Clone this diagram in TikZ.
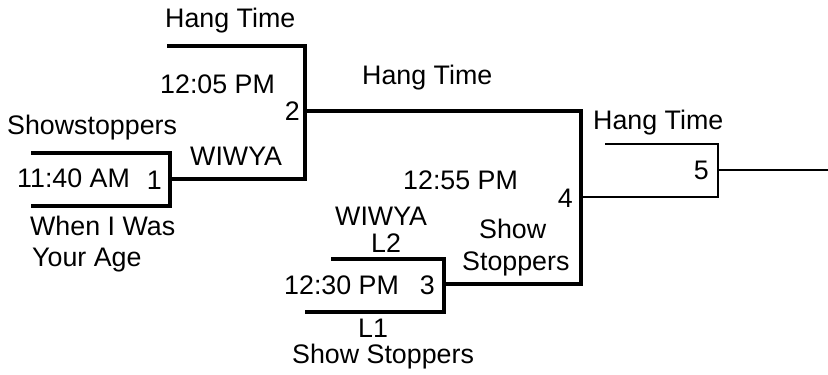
\documentclass[tikz,border=0pt]{standalone}
\usepackage{fontspec}
\setmainfont{Liberation Sans}
\begin{document}
\begin{tikzpicture}[x=1pt,y=-1pt,
    lbl/.style={anchor=base west,inner sep=0pt,font=\fontsize{26.8}{30}\selectfont},
    num/.style={lbl,anchor=base east},
    bk/.style={line width=3.5pt},
    tn/.style={line width=1.3pt}]
    \useasboundingbox (0,0) rectangle (828,375);

    % bracket corners
    \coordinate (g1a) at (31,153);
    \coordinate (g1b) at (170,153);
    \coordinate (g1c) at (170,206);
    \coordinate (g1d) at (31,206);
    \coordinate (g1o) at (170,179);
    \coordinate (g2a) at (167,46);
    \coordinate (g2b) at (305,46);
    \coordinate (g2c) at (305,179);
    \coordinate (g2o) at (305,111);
    \coordinate (g3a) at (331,259);
    \coordinate (g3b) at (444,259);
    \coordinate (g3c) at (444,312);
    \coordinate (g3d) at (305,312);
    \coordinate (g3o) at (444,284);
    \coordinate (g4b) at (581,111);
    \coordinate (g4c) at (581,284);
    \coordinate (g4o) at (581,197);
    \coordinate (g5a) at (605,144);
    \coordinate (g5b) at (718,144);
    \coordinate (g5c) at (718,197);
    \coordinate (g5o) at (718,170);
    \coordinate (end) at (828,170);

    \node[lbl] (t2a) at (165,27) {Hang Time};
    \node[lbl] (t2) at (160,93) {12:05 PM};
    \node[num] (n2) at (300,120) {2};
    \node[lbl] (t1a) at (7,134) {Showstoppers};
    \node[lbl] (t2b) at (190,165) {WIWYA};
    \node[lbl] (t1) at (17,187) {11:40 AM};
    \node[num] (n1) at (162,189) {1};
    \node[lbl] (t1b) at (30,235) {When I Was};
    \node[lbl] (t1c) at (32,266) {Your Age};
    \node[lbl] (t4a) at (362,84) {Hang Time};
    \node[lbl] (t4) at (403,189) {12:55 PM};
    \node[num] (n4) at (573,207) {4};
    \node[lbl] (t3a) at (335,225) {WIWYA};
    \node[lbl] (l2) at (371,252) {L2};
    \node[lbl] (t3) at (284,294) {12:30 PM};
    \node[num] (n3) at (435,294) {3};
    \node[lbl] (l1) at (358,337) {L1};
    \node[lbl] (t3b) at (292,363) {Show Stoppers};
    \node[lbl] (t4b) at (479,238) {Show};
    \node[lbl] (t4c) at (462,270) {Stoppers};
    \node[lbl] (t5a) at (593,129) {Hang Time};
    \node[num] (n5) at (709,179) {5};

    \draw[bk] (g1a) -- (g1b) -- (g1c) -- (g1d);
    \draw[bk] (g2a) -- (g2b) -- (g2c) -- (g1o);
    \draw[bk] (g3a) -- (g3b) -- (g3c) -- (g3d);
    \draw[bk] (g2o) -- (g4b) -- (g4c) -- (g3o);
    \draw[tn] (g5a) -- (g5b) -- (g5c) -- (g4o);
    \draw[tn] (g5o) -- (end);

  \end{tikzpicture}
\end{document}
